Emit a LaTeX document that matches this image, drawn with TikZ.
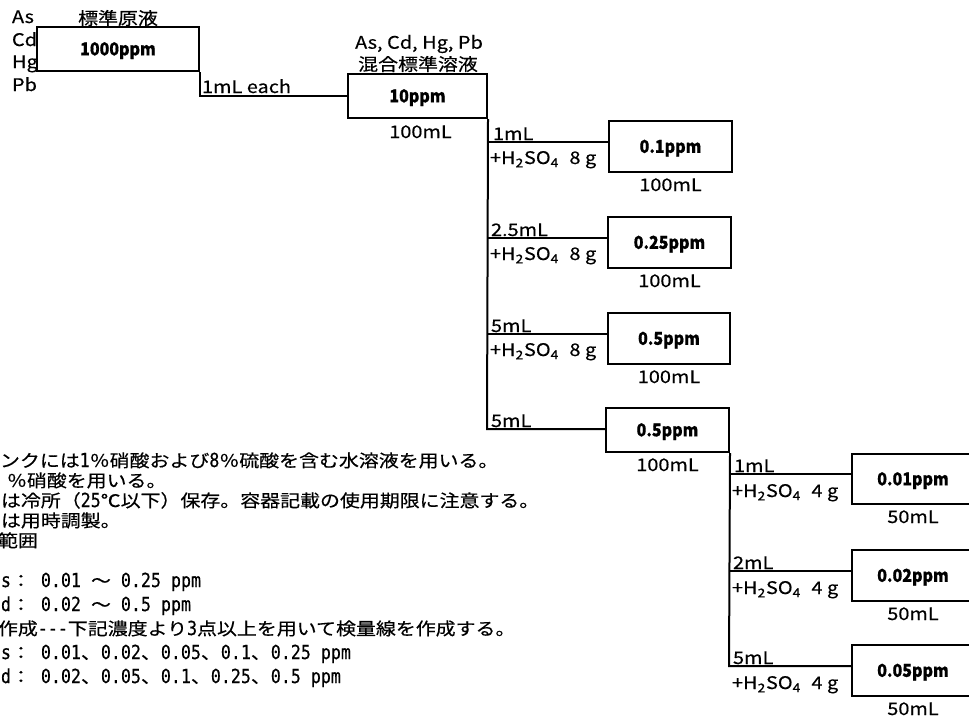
\documentclass[tikz,border=0pt]{standalone}
\usepackage{fontspec}
\setmainfont[FakeStretch=1.15,FakeBold=0.4]{Noto Sans CJK JP}
\newfontfamily\boxfont[FakeStretch=0.9,FakeBold=0.6]{Noto Sans CJK JP}
\newfontfamily\hwfont[FakeStretch=0.86,FakeBold=0.4]{DejaVu Sans Mono}
\newcommand\hw[1]{{\hwfont\fontsize{14.5}{17}\selectfont #1}}
\newcommand\hso[1]{+H\textsubscript{2}SO\textsubscript{4}\hspace{0.6em}#1 g}
\begin{document}
\begin{tikzpicture}[x=0.75pt,y=-0.75pt,
  font=\fontsize{13}{16}\selectfont,
  line width=1.5pt,
  bx/.style 2 args={draw, line width=1.5pt, inner sep=0pt,
    minimum width={#1*0.75pt}, minimum height={#2*0.75pt},
    text height=9.5pt, text depth=0pt,
    font=\boxfont\bfseries\fontsize{13.3}{15}\selectfont},
  txt/.style={inner sep=0pt, anchor=base west},
  ctr/.style={inner sep=0pt, anchor=center},
  vol/.style={inner sep=0pt, anchor=base},
  note/.style={inner sep=0pt, anchor=base west}]
\useasboundingbox (0,0) rectangle (969,718);
\clip (0,0) rectangle (969,718);

% boxes
\node[bx={162}{44}] (b1000) at (118,49) {1000ppm};
\node[bx={139}{44}] (b10) at (417.5,96) {10ppm};
\node[bx={123}{51}] (b01) at (670.5,146.5) {0.1ppm};
\node[bx={123}{51}] (b025) at (669.5,242.5) {0.25ppm};
\node[bx={122}{51}] (b05a) at (669,338.5) {0.5ppm};
\node[bx={123}{44}] (b05b) at (667.5,430) {0.5ppm};
\node[bx={122}{50}] (b001) at (913,479) {0.01ppm};
\node[bx={122}{51}] (b002) at (913,575.5) {0.02ppm};
\node[bx={122}{51}] (b005) at (913,670.5) {0.05ppm};

% junctions
\coordinate (j1) at (487,142);
\coordinate (j2) at (487,238);
\coordinate (j3) at (487,334);
\coordinate (j4) at (487,429);
\coordinate (k1) at (729,474);
\coordinate (k2) at (729,571);
\coordinate (k3) at (729,666);

% connectors
\draw (b1000.south east) |- (b10.west);
\draw (b10.south east) -- (j4) -- (j4 -| b05b.west);
\draw (j1) -- (j1 -| b01.west);
\draw (j2) -- (j2 -| b025.west);
\draw (j3) -- (j3 -| b05a.west);
\draw (b05b.south east) -- (k3) -- (k3 -| b005.west);
\draw (k1) -- (k1 -| b001.west);
\draw (k2) -- (k2 -| b002.west);

% top labels
\node[txt] (as) at (11,23) {As};
\node[txt] (cd) at (11,46) {Cd};
\node[txt] (hg) at (11,68) {Hg};
\node[txt] (pb) at (11,91) {Pb};
\node[ctr] (std) at (118,18) {標準原液};
\node[txt] (each) at (201,93) {1mL each};
\node[ctr] (mix1) at (419,44) {As, Cd, Hg, Pb};
\node[ctr] (mix2) at (418,64) {混合標準溶液};

% volumes
\node[vol] (v10) at ([shift={(3,19)}]b10.south) {100mL};
\node[vol] (v01) at ([shift={(0,18)}]b01.south) {100mL};
\node[vol] (v025) at ([shift={(0,18)}]b025.south) {100mL};
\node[vol] (v05a) at ([shift={(0,18)}]b05a.south) {100mL};
\node[vol] (v05b) at ([shift={(0,18)}]b05b.south) {100mL};
\node[vol] (v001) at ([shift={(0,18)}]b001.south) {50mL};
\node[vol] (v002) at ([shift={(0,18)}]b002.south) {50mL};
\node[vol] (v005) at ([shift={(0,18)}]b005.south) {50mL};

% branch labels
\node[txt] (a1) at ([shift={(5,-2)}]j1) {1mL};
\node[txt] (h1) at ([shift={(2,22)}]j1) {\hso{8}};
\node[txt] (a2) at ([shift={(3,-2)}]j2) {2.5mL};
\node[txt] (h2) at ([shift={(2,22)}]j2) {\hso{8}};
\node[txt] (a3) at ([shift={(3,-2)}]j3) {5mL};
\node[txt] (h3) at ([shift={(2,22)}]j3) {\hso{8}};
\node[txt] (a4) at ([shift={(3,-2)}]j4) {5mL};
\node[txt] (c1) at ([shift={(4,-2)}]k1) {1mL};
\node[txt] (g1) at ([shift={(2,23)}]k1) {\hso{4}};
\node[txt] (c2) at ([shift={(3,-2)}]k2) {2mL};
\node[txt] (g2) at ([shift={(2,23)}]k2) {\hso{4}};
\node[txt] (c3) at ([shift={(3,-2)}]k3) {5mL};
\node[txt] (g3) at ([shift={(2,23)}]k3) {\hso{4}};

% notes
\node[note] (n1) at (-1,467) {ンクには\hw{1}％硝酸および\hw{8}％硫酸を含む水溶液を用いる。};
\node[note] (n2) at (6,487) {％硝酸を用いる。};
\node[note] (n3) at (0,507) {は冷所（\hw{25}℃以下）保存。容器記載の使用期限に注意する。};
\node[note] (n4) at (0,527) {は用時調製。};
\node[note] (n5) at (-3,547) {範囲};
\node[note] (n6) at (0,587) {\hw{s}：\hw{ 0.01 }〜\hw{ 0.25 ppm}};
\node[note] (n7) at (0,611) {\hw{d}：\hw{ 0.02 }〜\hw{ 0.5 ppm}};
\node[note] (n8) at (-3,635) {作成\hw{---}下記濃度より\hw{3}点以上を用いて検量線を作成する。};
\node[note] (n9) at (0,659) {\hw{s}：\hw{ 0.01}、\hw{0.02}、\hw{0.05}、\hw{0.1}、\hw{0.25 ppm}};
\node[note] (n10) at (0,683) {\hw{d}：\hw{ 0.02}、\hw{0.05}、\hw{0.1}、\hw{0.25}、\hw{0.5 ppm}};
\end{tikzpicture}
\end{document}
